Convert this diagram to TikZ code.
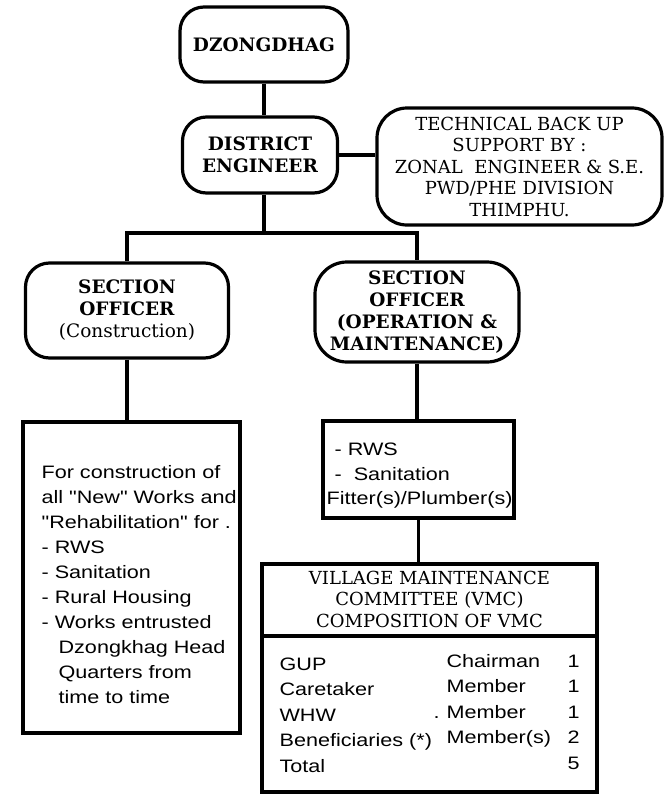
\documentclass[tikz,border=0pt]{standalone}
\usepackage{fontspec}
\newfontfamily\hdserif{DejaVu Serif}
\newfontfamily\bodysans[FakeStretch=1.2]{Liberation Sans}
\begin{document}
\begin{tikzpicture}[x=1pt,y=-1pt,line width=3.2pt,
  rbox/.style={draw,rounded corners=24pt,inner sep=0pt,align=center,
    font=\hdserif\bfseries\fontsize{18.5}{22}\selectfont},
  regbox/.style={draw,rounded corners=30pt,inner sep=0pt,align=center,
    font=\hdserif\fontsize{18}{21.5}\selectfont},
  sqbox/.style={draw,inner sep=0pt},
  hdtext/.style={inner sep=0pt,align=center,font=\hdserif\fontsize{18}{21.5}\selectfont},
  body/.style={inner sep=0pt,anchor=base west,font=\bodysans\fontsize{18}{22}\selectfont},
  conn/.style={draw,line width=3.2pt}]
\useasboundingbox (0,0) rectangle (665,795);

% rounded boxes
\node[rbox,minimum width=168pt,minimum height=75pt] (dz) at (264,44.5) {DZONGDHAG};
\node[rbox,minimum width=155pt,minimum height=76pt] (de) at (260,155) {DISTRICT\\ENGINEER};
\node[regbox,minimum width=285pt,minimum height=117pt] (tb) at (519.5,166.5)
  {TECHNICAL BACK UP\\SUPPORT BY :\\ZONAL\ \ ENGINEER \& S.E.\\PWD/PHE DIVISION\\THIMPHU.};
\node[rbox,minimum width=203pt,minimum height=95pt] (sc) at (127,310.5)
  {SECTION\\OFFICER\\{\mdseries (Construction)}};
\node[rbox,rounded corners=32pt,minimum width=204pt,minimum height=100pt] (so) at (417,312)
  {SECTION\\OFFICER\\(OPERATION \&\\MAINTENANCE)};

% rectangular boxes
\node[sqbox,minimum width=217pt,minimum height=311pt] (lb) at (131.5,577.5) {};
\node[sqbox,minimum width=191pt,minimum height=97pt] (rb) at (418.5,469.5) {};
\node[sqbox,minimum width=335pt,minimum height=228pt] (vmc) at (429.5,678) {};
\draw (vmc.west |- 0,636) -- (vmc.east |- 0,636);

% connectors
\coordinate (br) at (264,233);
\draw[conn] (dz.south) -- (dz.south |- de.north);
\draw[conn] (de.east) -- (de.east -| tb.west);
\draw[conn] (de.south -| br) -- (br);
\draw[conn] (sc.north) |- (br) -| (so.north);
\draw[conn] (sc.south) -- (sc.south |- lb.north);
\draw[conn] (so.south) -- (so.south |- rb.north);
\draw[conn] (rb.south) -- (rb.south |- vmc.north);

% left box text
\node[body] (l1) at (40,478) {For construction of};
\node[body] (l2) at (40,503) {all "New" Works and};
\node[body] (l3) at (40,528) {"Rehabilitation" for .};
\node[body] (l4) at (40,553) {- RWS};
\node[body] (l5) at (40,578) {- Sanitation};
\node[body] (l6) at (40,603) {- Rural Housing};
\node[body] (l7) at (40,628) {- Works entrusted};
\node[body] (l8) at (57,653) {Dzongkhag Head};
\node[body] (l9) at (57,678) {Quarters from};
\node[body] (l10) at (57,703) {time to time};

% right box text
\node[body] (r1) at (333,455) {- RWS};
\node[body] (r2) at (333,480) {-\ \ Sanitation};
\node[body] (r3) at (325,504) {Fitter(s)/Plumber(s)};

% VMC
\node[hdtext] (vmch) at (429.5,599) {VILLAGE MAINTENANCE\\COMMITTEE (VMC)\\COMPOSITION OF VMC};
\node[body] (v1) at (278,670) {GUP};
\node[body] (v2) at (278,695.5) {Caretaker};
\node[body] (v3) at (278,721) {WHW};
\node[body] (v4) at (278,746.5) {Beneficiaries (*)};
\node[body] (v5) at (278,772) {Total};
\node[body] (m1) at (445,667) {Chairman};
\node[body] (m2) at (445,692.5) {Member};
\node[body] (m3) at (445,718) {Member};
\node[body] (m4) at (445,743.5) {Member(s)};
\node[body] (dot) at (432,718) {.};
\node[body] (n1) at (566,667) {1};
\node[body] (n2) at (566,692.5) {1};
\node[body] (n3) at (566,718) {1};
\node[body] (n4) at (566,743.5) {2};
\node[body] (n5) at (566,769) {5};
\end{tikzpicture}
\end{document}
